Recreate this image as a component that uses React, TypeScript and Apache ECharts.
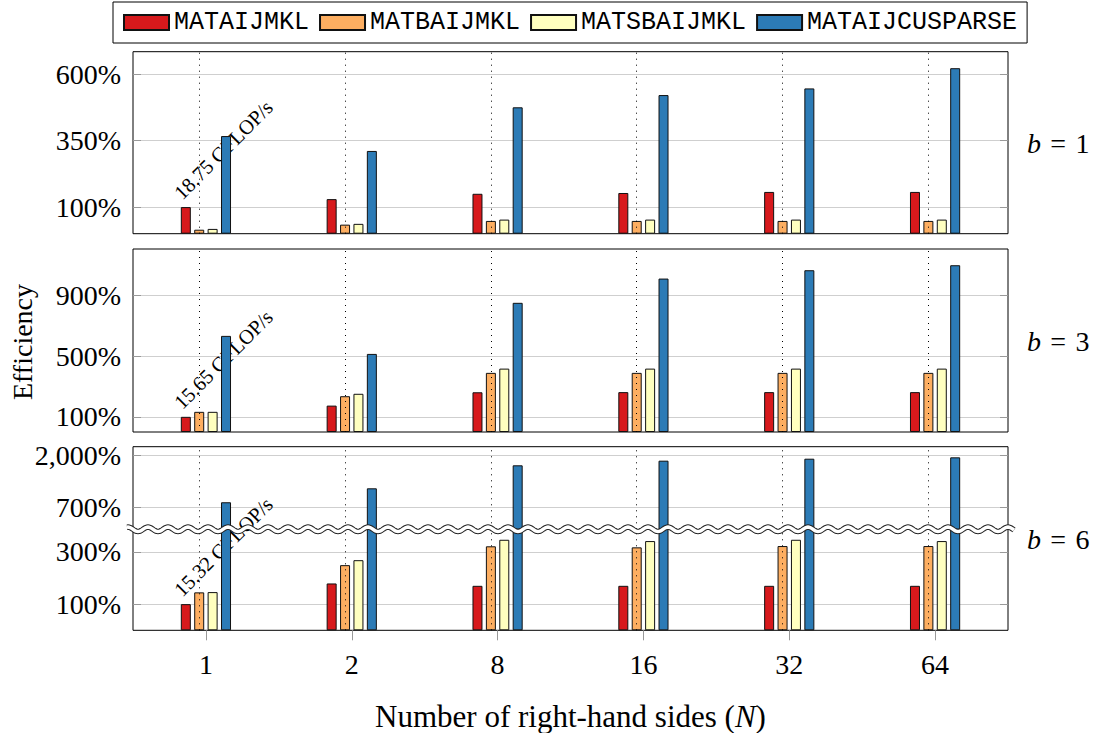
import React, { useEffect, useRef } from 'react';
import * as echarts from 'echarts';

// ---------- data ----------
const categories = ['1', '2', '8', '16', '32', '64'];
const seriesNames = ['MATAIJMKL', 'MATBAIJMKL', 'MATSBAIJMKL', 'MATAIJCUSPARSE'];
const colors = ['#d7191c', '#fdae61', '#ffffbf', '#2c7bb6'];

// b = 1
const b1Aij = [100, 130, 150, 153, 157, 157];
const b1Baij = [15, 34, 48, 48, 48, 48];
const b1Sbaij = [18, 37, 53, 53, 53, 53];
const b1Cusparse = [367, 311, 475, 521, 546, 622];

// b = 3
const b3Aij = [100, 174, 262, 263, 263, 263];
const b3Baij = [133, 236, 390, 390, 390, 390];
const b3Sbaij = [133, 252, 418, 418, 418, 418];
const b3Cusparse = [634, 515, 852, 1012, 1067, 1100];

// b = 6
const b6Aij = [100, 179, 170, 170, 170, 170];
const b6Baij = [145, 249, 321, 317, 322, 322];
const b6Sbaij = [146, 268, 346, 341, 346, 341];
const b6Cusparse = [780, 1030, 1629, 1786, 1858, 1910];

const ticksB1 = [100, 350, 600];
const ticksB3 = [100, 500, 900];
const ticksB6Low = [100, 300];
const ticksB6High = [700, 2000];

const panelLabels = ['1', '3', '6'];
const gflopLabels = ['18.75 GFLOP/s', '15.65 GFLOP/s', '15.32 GFLOP/s'];
const annotationValue = 100;

// ---------- layout ----------
const PLOT_LEFT = 133;
const PLOT_W = 875;
const P1 = { top: 51.7, h: 182 };
const P2 = { top: 249, h: 183 };
const P3U = { top: 446.7, h: 82.6 };
const P3L = { top: 529.3, h: 101 };

const SERIF = '"Liberation Serif", "DejaVu Serif", serif';
const MONO = '"Liberation Mono", "DejaVu Sans Mono", monospace';

const fmtPct = (v: number) => v.toLocaleString('en-US') + '%';

function leftY(gridIndex: number, min: number, max: number, ticks: number[], type = 'value') {
  const ax: any = {
    type,
    gridIndex,
    min,
    max,
    position: 'left',
    axisLine: { show: false },
    axisTick: { show: true, inside: true, length: 8, lineStyle: { color: '#999' }, customValues: ticks },
    axisLabel: {
      show: true,
      customValues: ticks,
      formatter: (v: number) => fmtPct(v),
      fontSize: 28,
      fontFamily: SERIF,
      color: '#000',
      margin: 12,
    },
    splitLine: { show: true, lineStyle: { color: '#cfcfcf', width: 1 } },
  };
  if (type === 'log') ax.logBase = 10;
  return ax;
}

function rightY(gridIndex: number, min: number, max: number, ticks: number[], type = 'value') {
  const ax: any = {
    type,
    gridIndex,
    min,
    max,
    position: 'right',
    axisLine: { show: false },
    axisTick: { show: true, inside: true, length: 8, lineStyle: { color: '#999' }, customValues: ticks },
    axisLabel: { show: false },
    splitLine: { show: false },
  };
  if (type === 'log') ax.logBase = 10;
  return ax;
}

function catX(gridIndex: number, withLabels: boolean, position = 'bottom') {
  return {
    type: 'category',
    gridIndex,
    data: categories,
    position,
    boundaryGap: true,
    axisLine: { show: false },
    axisTick: withLabels
      ? { show: true, alignWithLabel: true, length: 10, lineStyle: { color: '#999' } }
      : { show: false },
    axisLabel: withLabels
      ? { show: true, fontSize: 28, fontFamily: SERIF, color: '#000', margin: 20 }
      : { show: false },
    splitLine: { show: false },
  };
}

function panelSeries(axisIndex: number, data: number[][]) {
  return data.map((values, i) => {
    const s: any = {
      type: 'bar',
      name: seriesNames[i],
      xAxisIndex: axisIndex,
      yAxisIndex: axisIndex,
      data: values,
      barWidth: 10,
      barGap: '34%',
      clip: true,
      itemStyle: { color: colors[i], borderColor: '#111', borderWidth: 1 },
      emphasis: { disabled: true },
    };
    if (i === 1) {
      s.markLine = {
        silent: true,
        symbol: 'none',
        label: { show: false },
        lineStyle: { color: '#000', type: [1, 5], width: 1 },
        emphasis: { disabled: true },
        data: categories.map((c) => ({ xAxis: c })),
      };
    }
    return s;
  });
}

export default function App() {
  const ref = useRef<HTMLDivElement>(null);

  useEffect(() => {
    const chart = echarts.init(ref.current!, null, { renderer: 'svg' });

    const grid = [
      { left: PLOT_LEFT, top: P1.top, width: PLOT_W, height: P1.h, show: true, borderColor: '#000', borderWidth: 1, backgroundColor: 'transparent' },
      { left: PLOT_LEFT, top: P2.top, width: PLOT_W, height: P2.h, show: true, borderColor: '#000', borderWidth: 1, backgroundColor: 'transparent' },
      { left: PLOT_LEFT, top: P3U.top, width: PLOT_W, height: P3U.h },
      { left: PLOT_LEFT, top: P3L.top, width: PLOT_W, height: P3L.h },
      { left: PLOT_LEFT, top: P3U.top, width: PLOT_W, height: P3U.h + P3L.h, show: true, borderColor: '#000', borderWidth: 1, backgroundColor: 'transparent' },
    ];

    const xAxis = [
      catX(0, false),
      catX(1, false),
      catX(2, false),
      catX(3, true),
      { type: 'value', gridIndex: 4, show: false },
    ];

    const yAxis = [
      leftY(0, 0, 684, ticksB1),
      leftY(1, 0, 1207, ticksB3),
      leftY(2, 455, 2360, ticksB6High, 'log'),
      leftY(3, 0, 386, ticksB6Low),
      rightY(0, 0, 684, ticksB1),
      rightY(1, 0, 1207, ticksB3),
      rightY(2, 455, 2360, ticksB6High, 'log'),
      rightY(3, 0, 386, ticksB6Low),
      { type: 'value', gridIndex: 4, show: false },
    ];

    const series = [
      ...panelSeries(0, [b1Aij, b1Baij, b1Sbaij, b1Cusparse]),
      ...panelSeries(1, [b3Aij, b3Baij, b3Sbaij, b3Cusparse]),
      ...panelSeries(2, [b6Aij, b6Baij, b6Sbaij, b6Cusparse]),
      ...panelSeries(3, [b6Aij, b6Baij, b6Sbaij, b6Cusparse]),
    ];

    chart.setOption({
      animation: false,
      backgroundColor: '#fff',
      grid,
      xAxis,
      yAxis,
      series,
      legend: {
        data: seriesNames,
        left: 113,
        top: 2,
        padding: [8, 10],
        itemGap: 10,
        itemWidth: 45,
        itemHeight: 15,
        borderColor: '#000',
        borderWidth: 1,
        icon: 'rect',
        selectedMode: false,
        textStyle: { fontFamily: MONO, fontSize: 25, color: '#000', padding: [2, 0, 0, 0] },
      },
    });

    // graphics positioned from the chart's own scales
    const annotAxes = [0, 1, 3];
    const graphics: any[] = [];
    annotAxes.forEach((ai, k) => {
      const p = chart.convertToPixel({ xAxisIndex: ai, yAxisIndex: ai }, [categories[0], annotationValue]) as number[];
      graphics.push({
        type: 'text',
        x: p[0] - 21,
        y: p[1] - 4,
        rotation: Math.PI / 4,
        z: 1,
        silent: true,
        style: {
          text: gflopLabels[k],
          fontFamily: SERIF,
          fontSize: 20.5,
          fill: '#000',
          align: 'left',
          verticalAlign: 'bottom',
        },
      });
    });

    // right-hand panel labels
    const panelCenters = [P1.top + P1.h / 2, P2.top + P2.h / 2, P3U.top + (P3U.h + P3L.h) / 2];
    panelCenters.forEach((cy, k) => {
      graphics.push({
        type: 'text',
        x: 1027,
        y: cy + 1,
        z: 50,
        silent: true,
        style: {
          text: '{i|b}\u2004=\u2004' + panelLabels[k],
          fontFamily: SERIF,
          fontSize: 28,
          fill: '#000',
          align: 'left',
          verticalAlign: 'middle',
          rich: { i: { fontStyle: 'italic', fontFamily: SERIF, fontSize: 28 } },
        },
      });
    });

    // axis titles
    graphics.push({
      type: 'text',
      x: 22,
      y: 342,
      rotation: Math.PI / 2,
      z: 50,
      silent: true,
      style: { text: 'Efficiency', fontFamily: SERIF, fontSize: 28, fill: '#000', align: 'center', verticalAlign: 'middle' },
    });
    graphics.push({
      type: 'text',
      x: PLOT_LEFT + PLOT_W / 2,
      y: 716,
      z: 50,
      silent: true,
      style: {
        text: 'Number of right-hand sides ({i|N})',
        fontFamily: SERIF,
        fontSize: 31,
        fill: '#000',
        align: 'center',
        verticalAlign: 'middle',
        rich: { i: { fontStyle: 'italic', fontFamily: SERIF, fontSize: 31 } },
      },
    });

    // broken-axis wave
    const waveY = P3L.top;
    const pts: number[][] = [];
    for (let x = PLOT_LEFT - 6; x <= PLOT_LEFT + PLOT_W + 6; x += 1) {
      pts.push([x, waveY + 2.2 * Math.sin(((x - PLOT_LEFT) / 20) * 2 * Math.PI)]);
    }
    graphics.push({ type: 'polyline', z: 100, silent: true, shape: { points: pts }, style: { stroke: '#222', lineWidth: 5.5, fill: null } });
    graphics.push({ type: 'polyline', z: 101, silent: true, shape: { points: pts }, style: { stroke: '#fff', lineWidth: 3.5, fill: null } });

    chart.setOption({ graphic: graphics });

    return () => chart.dispose();
  }, []);

  return <div ref={ref} style={{ position: 'absolute', left: 0, top: 0, width: 1097, height: 733 }} />;
}
